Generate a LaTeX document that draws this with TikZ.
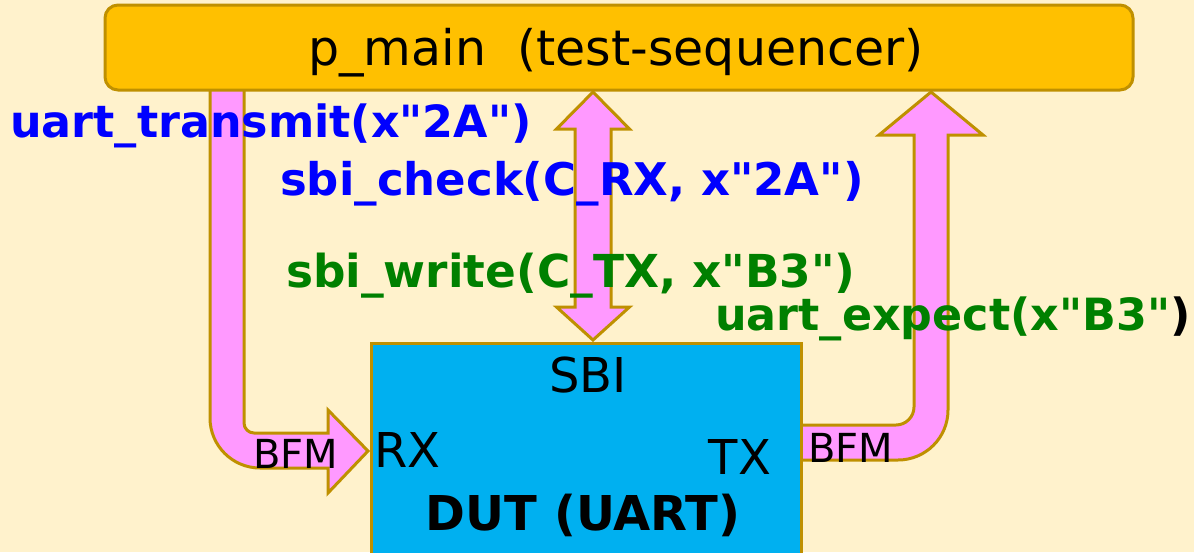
\documentclass[tikz,border=0pt]{standalone}
\usepackage{fontspec}
\setmainfont{DejaVu Sans}[Ligatures=TeXOff]

\definecolor{bgcream}{HTML}{FFF2CC}
\definecolor{seqgold}{HTML}{FFC000}
\definecolor{edgegold}{HTML}{BF9000}
\definecolor{bfmpink}{HTML}{FF99FF}
\definecolor{dutblue}{HTML}{00B0F0}
\definecolor{callblue}{HTML}{0000FF}
\definecolor{callgreen}{HTML}{008000}

\tikzset{
  busarrow/.style={fill=bfmpink, draw=edgegold, line width=3pt, line join=miter},
  callcmd/.style={font=\fontsize{45}{48}\selectfont\bfseries, inner sep=0pt, anchor=base west},
  portlabel/.style={font=\fontsize{48}{52}\selectfont, inner sep=0pt, anchor=base},
  bfmlabel/.style={font=\fontsize{40}{44}\selectfont, inner sep=0pt, anchor=base},
}

\begin{document}
\begin{tikzpicture}[x=1pt,y=-1pt]
  % canvas
  \path[use as bounding box, fill=bgcream] (0,0) rectangle (1194,552);
  \clip (0,0) rectangle (1194,552);

  % UART transmit path: sequencer -> BFM -> RX
  \path[busarrow] (244,88) -- (210,88) -- (210,418)
    .. controls (210,445.6) and (232.4,468) .. (260,468)
    -- (328,468) -- (328,493) -- (368,451) -- (328,410) -- (328,433)
    -- (254,433) .. controls (248.5,433) and (244,428.5) .. (244,423) -- cycle;

  % SBI access: two-way
  \path[busarrow] (593,92) -- (629.5,129) -- (611,129) -- (611,307)
    -- (629.5,307) -- (593,340) -- (556.5,307) -- (575,307) -- (575,129)
    -- (556.5,129) -- cycle;

  % UART receive path: TX -> BFM -> sequencer
  \path[busarrow] (800,460) -- (898,460)
    .. controls (925.6,460) and (948,437.6) .. (948,410)
    -- (948,135) -- (983,135) -- (931,92) -- (879,135) -- (914,135)
    -- (914,407) .. controls (914,416.9) and (905.9,425) .. (896,425)
    -- (800,425) -- cycle;

  % device under test
  \node[name=dut, draw=edgegold, fill=dutblue, line width=3pt,
        minimum width=430pt, minimum height=240pt, anchor=north west,
        inner sep=0pt] at (370,342) {};

  % test sequencer
  \node[name=seq, draw=edgegold, fill=seqgold, line width=3pt,
        rounded corners=13pt, minimum width=1028pt, minimum height=85pt,
        inner sep=0pt] at (619,47.5) {};
  \node[name=seqname, inner sep=0pt, anchor=base,
        font=\fontsize{49}{53}\selectfont] at (616,65)
        {p\_main\ \ (test-sequencer)};

  % port names inside the DUT
  \node[portlabel, name=sbi] at (588,392) {SBI};
  \node[portlabel, name=rx, anchor=base west] at (374,467) {RX};
  \node[portlabel, name=tx] at (740,474) {TX};
  \node[portlabel, name=dutname, font=\fontsize{48}{52}\selectfont\bfseries] at (583,530) {DUT (UART)};

  % BFM tags on the serial lines
  \node[bfmlabel, name=bfmrx] at (295.5,468) {BFM};
  \node[bfmlabel, name=bfmtx] at (851,462) {BFM};

  % procedure calls
  \node[callcmd, name=ctransmit, text=callblue, font=\fontsize{44.4}{48}\selectfont\bfseries] at (10,137) {uart\_transmit(x"2A")};
  \node[callcmd, name=ccheck, text=callblue] at (280,195) {sbi\_check(C\_RX, x"2A")};
  \node[callcmd, name=cwrite, text=callgreen, font=\fontsize{45.4}{48}\selectfont\bfseries] at (286,287) {sbi\_write(C\_TX, x"B3")};
  \node[callcmd, name=cexpect, font=\fontsize{44.4}{48}\selectfont\bfseries] at (715,330)
        {\color{callgreen}uart\_expect(x"B3"\color{black})};
\end{tikzpicture}
\end{document}
